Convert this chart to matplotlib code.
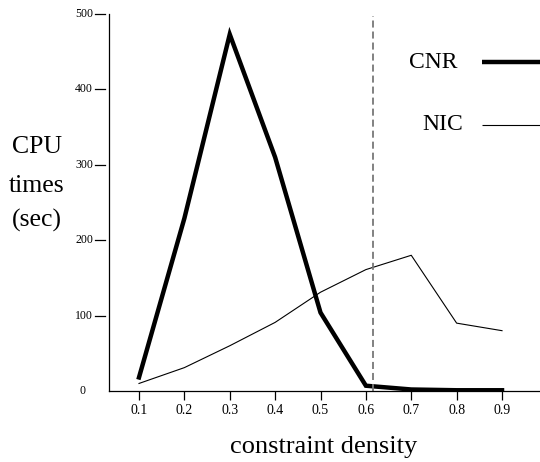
import matplotlib
matplotlib.use("Agg")
import matplotlib.pyplot as plt
import matplotlib.transforms as mtransforms

# data
density = [0.1, 0.2, 0.3, 0.4, 0.5, 0.6, 0.7, 0.8, 0.9]
cnr = [18, 229, 473, 310, 104, 7, 2, 1, 1]
nic = [10, 31, 60, 91, 131, 161, 180, 90, 80]
y_ticks = [0, 100, 200, 300, 400, 500]
x_tick_labels = ["0.1", "0.2", "0.3", "0.4", "0.5", "0.6", "0.7", "0.8", "0.9"]
threshold = 0.615

plt.rcParams['font.family'] = ['Liberation Serif', 'DejaVu Serif']

fig = plt.figure(figsize=(5.4, 4.62), dpi=100)
ax = fig.add_axes([109 / 540, 71 / 462, 431 / 540, 377 / 462])

ax.plot(density, cnr, color='black', lw=3.2, solid_joinstyle='miter')
ax.plot(density, nic, color='black', lw=0.8)
ax.axvline(threshold, ymin=0, ymax=0.995, color='#777777', lw=1.3,
           linestyle=(0, (3.9, 2.2)))

ax.set_xlim(0.0339, 0.9837)
ax.set_ylim(0, 500)

for s in ['top', 'right']:
    ax.spines[s].set_visible(False)
for s in ['left', 'bottom']:
    ax.spines[s].set_linewidth(0.9)

ax.set_xticks(density)
ax.set_xticklabels(x_tick_labels, fontsize=10)
ax.tick_params(axis='x', direction='out', length=6.5, width=0.9, pad=3)

# y ticks: short dashes with a small gap left of the axis
ax.set_yticks([])
blend = mtransforms.blended_transform_factory(ax.transAxes, ax.transData)
px = 1 / 431
for v in y_ticks:
    if v > 0:
        ax.plot([-14 * px, -4 * px], [v, v], color='black', lw=0.9,
                transform=blend, clip_on=False)
        ax.text(-16 * px, v, str(v), transform=blend, ha='right', va='center',
                fontsize=8.5)
    else:
        ax.text(-24 * px, v, str(v), transform=blend, ha='right', va='center',
                fontsize=8.5)

# legend drawn by hand
ax.plot([0.865, 1.0], [0.873, 0.873], color='black', lw=3.2,
        transform=ax.transAxes, clip_on=False, solid_capstyle='butt')
ax.plot([0.865, 1.0], [0.706, 0.706], color='black', lw=0.8,
        transform=ax.transAxes, clip_on=False, solid_capstyle='butt')
fig.text(458 / 540, 1 - 62 / 462, "CNR", ha='right', va='center', fontsize=17)
fig.text(463 / 540, 1 - 125 / 462, "NIC", ha='right', va='center', fontsize=17)

# axis labels
for label, base in [("CPU", 153), ("times", 192), ("(sec)", 227)]:
    fig.text(37 / 540, 1 - base / 462, label, ha='center', va='baseline',
             fontsize=18.5)
fig.text(324 / 540, 1 - 453 / 462, "constraint density", ha='center',
         va='baseline', fontsize=19)

fig.savefig("out.png", dpi=100)
